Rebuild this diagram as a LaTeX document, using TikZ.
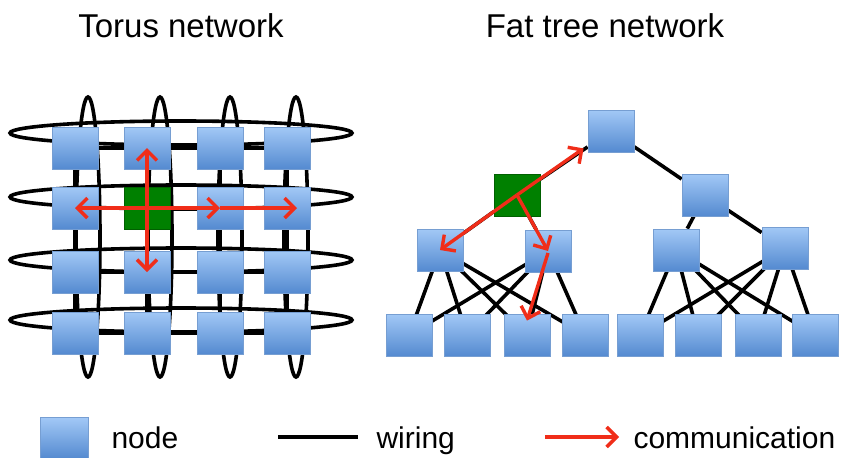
\documentclass[tikz,border=0pt]{standalone}
\usepackage{fontspec}
\setmainfont{Liberation Sans}
\usetikzlibrary{positioning}
\usetikzlibrary{arrows.meta}
\usetikzlibrary{backgrounds}
\definecolor{nodetop}{RGB}{162,200,246}
\definecolor{nodebot}{RGB}{84,138,208}
\definecolor{nodeedge}{RGB}{118,158,210}
\definecolor{srcgreen}{RGB}{0,128,0}
\definecolor{commred}{RGB}{240,45,25}
\tikzset{
	netnode/.style={draw=nodeedge, line width=0.8pt, top color=nodetop, bottom color=nodebot, minimum width=46pt, minimum height=42pt, inner sep=0pt},
	srcnode/.style={draw=srcgreen!75!black, line width=0.8pt, fill=srcgreen, minimum width=46pt, minimum height=42pt, inner sep=0pt},
	wire/.style={black, line width=3.6pt},
	comm/.style={commred, line width=3.4pt, >={Straight Barb[length=10pt,width=20pt]}},
	title/.style={font=\fontsize{33}{38}\selectfont, anchor=base},
	legendtext/.style={font=\fontsize{30}{34}\selectfont, anchor=base west},
}

\begin{document}
\begin{tikzpicture}[x=1pt, y=-1pt]
		\useasboundingbox (0,0) rectangle (844,458);
		\node[title] (torus-title) at (181,37) {Torus network};
		\node[title] (tree-title) at (605,37) {Fat tree network};
		% torus
		\foreach \r/\y in {1/148,2/208,3/272,4/333}
			\foreach \c/\x in {1/75,2/147,3/220,4/287}{
				\def\kind{netnode}
				\ifnum\r=2 \ifnum\c=2 \def\kind{srcnode}\fi\fi
				\node[\kind] (t-\r-\c) at (\x,\y) {};
			}
		\begin{scope}[on background layer]
			\foreach \y in {133,197,260,320}
				\draw[wire] (181,\y) ellipse [x radius=171, y radius=12];
			\foreach \x in {88,160,230,296}
				\draw[wire] (\x,237) ellipse [x radius=12, y radius=140];
			\foreach \r in {1,...,4}
				\draw[wire] (t-\r-1) -- (t-\r-4);
			\foreach \c in {1,...,4}
				\draw[wire] (t-1-\c) -- (t-4-\c);
		\end{scope}
		\draw[comm, <->] (t-1-2.center) -- (t-3-2.center);
		\draw[comm, <->] (t-2-1.center) -- (t-2-3.center);
		\draw[comm, ->] (t-2-3.center) -- ([xshift=10pt]t-2-4.center);
		% fat tree
		\node[netnode] (f-root) at (611,131) {};
		\node[srcnode] (f-l2a) at (517,195) {};
		\node[netnode] (f-l2b) at (705,195) {};
		\node[netnode] (f-l3a) at (440,250) {};
		\node[netnode] (f-l3b) at (548,251) {};
		\node[netnode] (f-l3c) at (676,250) {};
		\node[netnode] (f-l3d) at (785,248) {};
		\foreach \i/\x in {1/409,2/467,3/527,4/585,5/640,6/698,7/758,8/815}
			\node[netnode] (f-leaf\i) at (\x,335) {};
		\begin{scope}[on background layer]
			\draw[wire] (f-root) -- (f-l2a);
			\draw[wire] (f-root) -- (f-l2b);
			\draw[wire] (f-l2a) -- (f-l3a);
			\draw[wire] (f-l2a) -- (f-l3b);
			\draw[wire] (f-l2b) -- (f-l3c);
			\draw[wire] (f-l2b) -- (f-l3d);
			\foreach \i in {1,...,4}{
				\draw[wire] (f-l3a.center) -- (f-leaf\i.center);
				\draw[wire] (f-l3b.center) -- (f-leaf\i.center);
			}
			\foreach \i in {5,...,8}{
				\draw[wire] (f-l3c.center) -- (f-leaf\i.center);
				\draw[wire] (f-l3d.center) -- (f-leaf\i.center);
			}
		\end{scope}
		\draw[comm, ->] (f-l2a.center) -- ([xshift=-4pt,yshift=4pt]f-root.south west);
		\draw[comm, ->] (f-l2a.center) -- (f-l3a.center);
		\draw[comm, ->] (f-l2a.center) -- (f-l3b.center);
		\draw[comm, ->] ([yshift=-2pt]f-l3b.center) -- ([yshift=-7pt]f-leaf3.north);
		% legend
		\node[netnode, minimum width=48pt, minimum height=41pt] (key-node) at (64,438) {};
		\node[legendtext] (key-node-text) at (108,448) {node};
		\coordinate (key-wire-a) at (278,437);
		\coordinate (key-wire-b) at (358,437);
		\draw[wire] (key-wire-a) -- (key-wire-b);
		\node[legendtext] (key-wire-text) at (373,448) {wiring};
		\coordinate (key-comm-a) at (545,437);
		\coordinate (key-comm-b) at (619,437);
		\draw[comm, ->] (key-comm-a) -- (key-comm-b);
		\node[legendtext] (key-comm-text) at (630,448) {communication};
	\end{tikzpicture}
\end{document}
